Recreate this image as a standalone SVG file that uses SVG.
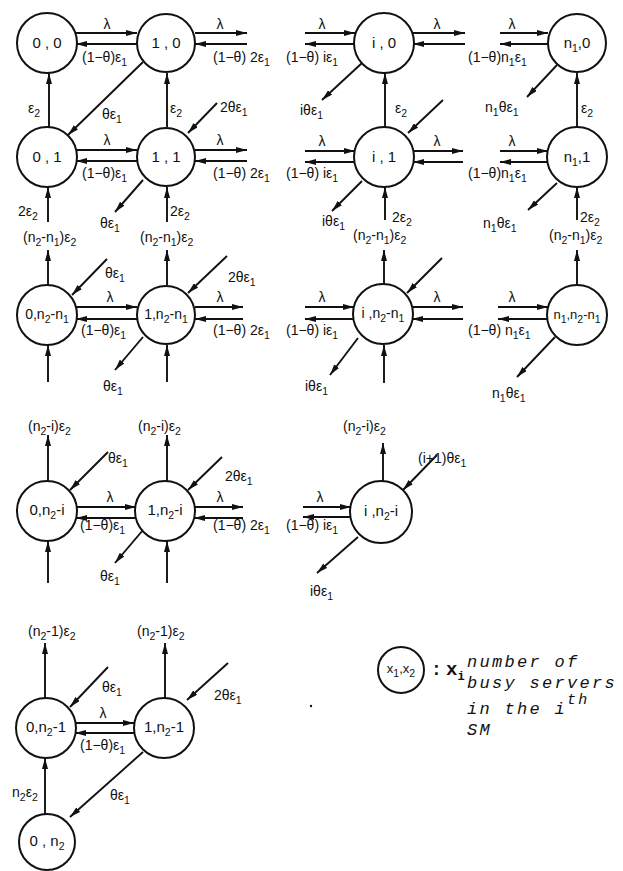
<svg xmlns="http://www.w3.org/2000/svg" width="623" height="871" viewBox="0 0 623 871">
  <style>
    .bg { fill: #ffffff; }
    .node circle { fill: #ffffff; stroke: #111; stroke-width: 2; }
    .node text { font-family: "Liberation Sans", Arial, sans-serif; font-size: 15px; fill: #111; text-anchor: middle; }
    #edges line { stroke: #111; stroke-width: 1.9; marker-end: url(#ah); }
    .lb { font-family: "Liberation Sans", Arial, sans-serif; font-size: 14px; fill: #111; }
    .mid { text-anchor: middle; }
    .s { font-size: 10.5px; }
    .legend { font-family: "Liberation Mono", "Courier New", monospace; font-style: italic; font-size: 17px; letter-spacing: 2.3px; fill: #111; }
  </style>
  <defs>
    <marker id="ah" viewBox="0 0 11 6" refX="11" refY="3" markerWidth="11" markerHeight="6" markerUnits="userSpaceOnUse" orient="auto">
      <path d="M0,0 L11,3 L0,6 z" fill="#111"/>
    </marker>
  </defs>
  <rect class="bg" x="0" y="0" width="623" height="871"/>

  <!-- transitions -->
  <g id="edges">
    <!-- row x2 = 0 -->
    <line x1="76" y1="33" x2="137" y2="33"/>
    <line x1="137" y1="44" x2="76" y2="44"/>
    <line x1="195" y1="33" x2="247" y2="33"/>
    <line x1="247" y1="44" x2="195" y2="44"/>
    <line x1="305" y1="33" x2="355" y2="33"/>
    <line x1="355" y1="44" x2="305" y2="44"/>
    <line x1="413" y1="33" x2="465" y2="33"/>
    <line x1="465" y1="44" x2="413" y2="44"/>
    <line x1="500" y1="33" x2="548" y2="33"/>
    <line x1="548" y1="44" x2="500" y2="44"/>
    <line x1="49" y1="127" x2="49" y2="73"/>
    <line x1="167" y1="127" x2="167" y2="73"/>
    <line x1="143" y1="62" x2="68" y2="135"/>
    <line x1="217" y1="103" x2="188" y2="133"/>
    <line x1="362" y1="63" x2="322" y2="100"/>
    <line x1="385" y1="127" x2="385" y2="73"/>
    <line x1="443" y1="100" x2="408" y2="133"/>
    <line x1="557" y1="65" x2="527" y2="97"/>
    <line x1="577" y1="127" x2="577" y2="73"/>
    <!-- row x2 = 1 -->
    <line x1="76" y1="150" x2="137" y2="150"/>
    <line x1="137" y1="161" x2="76" y2="161"/>
    <line x1="195" y1="150" x2="247" y2="150"/>
    <line x1="247" y1="161" x2="195" y2="161"/>
    <line x1="305" y1="151" x2="355" y2="151"/>
    <line x1="355" y1="162" x2="305" y2="162"/>
    <line x1="413" y1="151" x2="463" y2="151"/>
    <line x1="463" y1="162" x2="413" y2="162"/>
    <line x1="500" y1="151" x2="548" y2="151"/>
    <line x1="548" y1="162" x2="500" y2="162"/>
    <line x1="48" y1="222" x2="48" y2="187"/>
    <line x1="167" y1="222" x2="167" y2="187"/>
    <line x1="143" y1="180" x2="115" y2="212"/>
    <line x1="385" y1="220" x2="385" y2="187"/>
    <line x1="362" y1="181" x2="332" y2="211"/>
    <line x1="577" y1="220" x2="577" y2="187"/>
    <line x1="557" y1="183" x2="528" y2="210"/>
    <!-- row x2 = n2-n1 -->
    <line x1="48" y1="285" x2="48" y2="250"/>
    <line x1="167" y1="285" x2="167" y2="250"/>
    <line x1="107" y1="259" x2="72" y2="295"/>
    <line x1="227" y1="256" x2="188" y2="293"/>
    <line x1="76" y1="307" x2="137" y2="307"/>
    <line x1="137" y1="319" x2="76" y2="319"/>
    <line x1="195" y1="307" x2="243" y2="307"/>
    <line x1="243" y1="319" x2="195" y2="319"/>
    <line x1="48" y1="382" x2="48" y2="345"/>
    <line x1="167" y1="382" x2="167" y2="345"/>
    <line x1="143" y1="337" x2="115" y2="370"/>
    <line x1="384" y1="285" x2="384" y2="250"/>
    <line x1="442" y1="258" x2="407" y2="293"/>
    <line x1="305" y1="307" x2="354" y2="307"/>
    <line x1="354" y1="319" x2="305" y2="319"/>
    <line x1="412" y1="307" x2="463" y2="307"/>
    <line x1="463" y1="319" x2="412" y2="319"/>
    <line x1="358" y1="338" x2="330" y2="375"/>
    <line x1="384" y1="383" x2="384" y2="345"/>
    <line x1="577" y1="285" x2="577" y2="250"/>
    <line x1="498" y1="307" x2="548" y2="307"/>
    <line x1="548" y1="319" x2="498" y2="319"/>
    <line x1="555" y1="337" x2="517" y2="377"/>
    <!-- row x2 = n2-i -->
    <line x1="48" y1="481" x2="48" y2="435"/>
    <line x1="167" y1="481" x2="167" y2="435"/>
    <line x1="108" y1="452" x2="70" y2="490"/>
    <line x1="222" y1="457" x2="188" y2="490"/>
    <line x1="76" y1="507" x2="136" y2="507"/>
    <line x1="136" y1="518" x2="76" y2="518"/>
    <line x1="194" y1="507" x2="243" y2="507"/>
    <line x1="243" y1="518" x2="194" y2="518"/>
    <line x1="48" y1="583" x2="48" y2="541"/>
    <line x1="167" y1="583" x2="167" y2="541"/>
    <line x1="143" y1="530" x2="115" y2="563"/>
    <line x1="383" y1="482" x2="383" y2="443"/>
    <line x1="437" y1="455" x2="403" y2="490"/>
    <line x1="303" y1="507" x2="351" y2="507"/>
    <line x1="351" y1="517" x2="303" y2="517"/>
    <line x1="358" y1="537" x2="317" y2="573"/>
    <!-- rows x2 = n2-1, n2 -->
    <line x1="45" y1="698" x2="45" y2="643"/>
    <line x1="165" y1="698" x2="165" y2="643"/>
    <line x1="108" y1="667" x2="70" y2="707"/>
    <line x1="228" y1="663" x2="187" y2="700"/>
    <line x1="75" y1="723" x2="134" y2="723"/>
    <line x1="134" y1="733" x2="75" y2="733"/>
    <line x1="143" y1="752" x2="70" y2="817"/>
    <line x1="45" y1="814" x2="45" y2="758"/>
  </g>

  <!-- rate labels -->
  <g id="labels" class="lb">
    <!-- row x2 = 0 -->
    <text class="mid" x="107" y="29">λ</text>
    <text x="82" y="62">(1−θ)ε<tspan class="s" dy="4">1</tspan></text>
    <text class="mid" x="220" y="29">λ</text>
    <text x="213" y="62">(1−θ) 2ε<tspan class="s" dy="4">1</tspan></text>
    <text class="mid" x="322" y="29">λ</text>
    <text x="286" y="62">(1−θ) iε<tspan class="s" dy="4">1</tspan></text>
    <text class="mid" x="437" y="29">λ</text>
    <text class="mid" x="512" y="29">λ</text>
    <text x="468" y="62">(1−θ)n<tspan class="s" dy="4">1</tspan><tspan dy="-4">ε</tspan><tspan class="s" dy="4">1</tspan></text>
    <text x="28" y="113">ε<tspan class="s" dy="4">2</tspan></text>
    <text x="170" y="113">ε<tspan class="s" dy="4">2</tspan></text>
    <text x="102" y="119">θε<tspan class="s" dy="4">1</tspan></text>
    <text x="220" y="112">2θε<tspan class="s" dy="4">1</tspan></text>
    <text x="300" y="115">iθε<tspan class="s" dy="4">1</tspan></text>
    <text x="395" y="113">ε<tspan class="s" dy="4">2</tspan></text>
    <text x="485" y="112">n<tspan class="s" dy="4">1</tspan><tspan dy="-4">θε</tspan><tspan class="s" dy="4">1</tspan></text>
    <text x="581" y="113">ε<tspan class="s" dy="4">2</tspan></text>
    <!-- row x2 = 1 -->
    <text class="mid" x="107" y="145">λ</text>
    <text x="82" y="178">(1−θ)ε<tspan class="s" dy="4">1</tspan></text>
    <text class="mid" x="220" y="145">λ</text>
    <text x="213" y="178">(1−θ) 2ε<tspan class="s" dy="4">1</tspan></text>
    <text class="mid" x="322" y="146">λ</text>
    <text x="286" y="178">(1−θ) iε<tspan class="s" dy="4">1</tspan></text>
    <text class="mid" x="437" y="146">λ</text>
    <text class="mid" x="512" y="146">λ</text>
    <text x="468" y="178">(1−θ)n<tspan class="s" dy="4">1</tspan><tspan dy="-4">ε</tspan><tspan class="s" dy="4">1</tspan></text>
    <text x="18" y="216">2ε<tspan class="s" dy="4">2</tspan></text>
    <text x="170" y="216">2ε<tspan class="s" dy="4">2</tspan></text>
    <text x="100" y="228">θε<tspan class="s" dy="4">1</tspan></text>
    <text x="322" y="226">iθε<tspan class="s" dy="4">1</tspan></text>
    <text x="392" y="222">2ε<tspan class="s" dy="4">2</tspan></text>
    <text x="483" y="228">n<tspan class="s" dy="4">1</tspan><tspan dy="-4">θε</tspan><tspan class="s" dy="4">1</tspan></text>
    <text x="580" y="222">2ε<tspan class="s" dy="4">2</tspan></text>
    <!-- row x2 = n2-n1 -->
    <text x="23" y="242">(n<tspan class="s" dy="4">2</tspan><tspan dy="-4">-n</tspan><tspan class="s" dy="4">1</tspan><tspan dy="-4">)ε</tspan><tspan class="s" dy="4">2</tspan></text>
    <text x="140" y="242">(n<tspan class="s" dy="4">2</tspan><tspan dy="-4">-n</tspan><tspan class="s" dy="4">1</tspan><tspan dy="-4">)ε</tspan><tspan class="s" dy="4">2</tspan></text>
    <text x="105" y="278">θε<tspan class="s" dy="4">1</tspan></text>
    <text x="228" y="282">2θε<tspan class="s" dy="4">1</tspan></text>
    <text class="mid" x="110" y="302">λ</text>
    <text x="81" y="335">(1−θ)ε<tspan class="s" dy="4">1</tspan></text>
    <text class="mid" x="220" y="302">λ</text>
    <text x="213" y="335">(1−θ) 2ε<tspan class="s" dy="4">1</tspan></text>
    <text x="103" y="391">θε<tspan class="s" dy="4">1</tspan></text>
    <text x="353" y="240">(n<tspan class="s" dy="4">2</tspan><tspan dy="-4">-n</tspan><tspan class="s" dy="4">1</tspan><tspan dy="-4">)ε</tspan><tspan class="s" dy="4">2</tspan></text>
    <text class="mid" x="322" y="302">λ</text>
    <text x="286" y="335">(1−θ) iε<tspan class="s" dy="4">1</tspan></text>
    <text class="mid" x="437" y="302">λ</text>
    <text x="305" y="391">iθε<tspan class="s" dy="4">1</tspan></text>
    <text x="549" y="240">(n<tspan class="s" dy="4">2</tspan><tspan dy="-4">-n</tspan><tspan class="s" dy="4">1</tspan><tspan dy="-4">)ε</tspan><tspan class="s" dy="4">2</tspan></text>
    <text class="mid" x="512" y="302">λ</text>
    <text x="468" y="335">(1−θ) n<tspan class="s" dy="4">1</tspan><tspan dy="-4">ε</tspan><tspan class="s" dy="4">1</tspan></text>
    <text x="492" y="398">n<tspan class="s" dy="4">1</tspan><tspan dy="-4">θε</tspan><tspan class="s" dy="4">1</tspan></text>
    <!-- row x2 = n2-i -->
    <text x="28" y="431">(n<tspan class="s" dy="4">2</tspan><tspan dy="-4">-i)ε</tspan><tspan class="s" dy="4">2</tspan></text>
    <text x="138" y="431">(n<tspan class="s" dy="4">2</tspan><tspan dy="-4">-i)ε</tspan><tspan class="s" dy="4">2</tspan></text>
    <text x="108" y="463">θε<tspan class="s" dy="4">1</tspan></text>
    <text x="225" y="481">2θε<tspan class="s" dy="4">1</tspan></text>
    <text class="mid" x="110" y="502">λ</text>
    <text x="80" y="530">(1−θ)ε<tspan class="s" dy="4">1</tspan></text>
    <text class="mid" x="220" y="502">λ</text>
    <text x="213" y="530">(1−θ) 2ε<tspan class="s" dy="4">1</tspan></text>
    <text x="100" y="581">θε<tspan class="s" dy="4">1</tspan></text>
    <text x="343" y="431">(n<tspan class="s" dy="4">2</tspan><tspan dy="-4">-i)ε</tspan><tspan class="s" dy="4">2</tspan></text>
    <text x="418" y="463">(i+1)θε<tspan class="s" dy="4">1</tspan></text>
    <text class="mid" x="320" y="502">λ</text>
    <text x="286" y="530">(1−θ) iε<tspan class="s" dy="4">1</tspan></text>
    <text x="310" y="596">iθε<tspan class="s" dy="4">1</tspan></text>
    <!-- rows x2 = n2-1, n2 -->
    <text x="28" y="636">(n<tspan class="s" dy="4">2</tspan><tspan dy="-4">-1)ε</tspan><tspan class="s" dy="4">2</tspan></text>
    <text x="137" y="636">(n<tspan class="s" dy="4">2</tspan><tspan dy="-4">-1)ε</tspan><tspan class="s" dy="4">2</tspan></text>
    <text x="102" y="692">θε<tspan class="s" dy="4">1</tspan></text>
    <text x="214" y="700">2θε<tspan class="s" dy="4">1</tspan></text>
    <text class="mid" x="103" y="718">λ</text>
    <text x="80" y="750">(1−θ)ε<tspan class="s" dy="4">1</tspan></text>
    <text x="110" y="800">θε<tspan class="s" dy="4">1</tspan></text>
    <text x="12" y="797">n<tspan class="s" dy="4">2</tspan><tspan dy="-4">ε</tspan><tspan class="s" dy="4">2</tspan></text>
  </g>

  <!-- states (x1, x2) -->
  <g id="s-0-0" class="node"><circle cx="47" cy="43" r="30"/><text x="47" y="48">0 , 0</text></g>
  <g id="s-1-0" class="node"><circle cx="166" cy="43" r="29"/><text x="166" y="48">1 , 0</text></g>
  <g id="s-i-0" class="node"><circle cx="384" cy="43" r="30"/><text x="384" y="48">i , 0</text></g>
  <g id="s-n1-0" class="node"><circle cx="577" cy="43" r="29"/><text x="577" y="48">n<tspan class="s" dy="4">1</tspan><tspan dy="-4">,0</tspan></text></g>

  <g id="s-0-1" class="node"><circle cx="47" cy="157" r="30"/><text x="47" y="162">0 , 1</text></g>
  <g id="s-1-1" class="node"><circle cx="166" cy="157" r="29"/><text x="166" y="162">1 , 1</text></g>
  <g id="s-i-1" class="node"><circle cx="384" cy="157" r="30"/><text x="384" y="162">i , 1</text></g>
  <g id="s-n1-1" class="node"><circle cx="577" cy="157" r="30"/><text x="577" y="162">n<tspan class="s" dy="4">1</tspan><tspan dy="-4">,1</tspan></text></g>

  <g id="s-0-n2mn1" class="node"><circle cx="47" cy="315" r="30"/><text x="47" y="319" style="font-size:14px">0,n<tspan class="s" dy="4">2</tspan><tspan dy="-4">-n</tspan><tspan class="s" dy="4">1</tspan></text></g>
  <g id="s-1-n2mn1" class="node"><circle cx="166" cy="315" r="29"/><text x="166" y="319" style="font-size:14px">1,n<tspan class="s" dy="4">2</tspan><tspan dy="-4">-n</tspan><tspan class="s" dy="4">1</tspan></text></g>
  <g id="s-i-n2mn1" class="node"><circle cx="383" cy="314" r="30"/><text x="383" y="318" style="font-size:14px">i ,n<tspan class="s" dy="4">2</tspan><tspan dy="-4">-n</tspan><tspan class="s" dy="4">1</tspan></text></g>
  <g id="s-n1-n2mn1" class="node"><circle cx="577" cy="315" r="30"/><text x="577" y="319" style="font-size:13px">n<tspan class="s" dy="4">1</tspan><tspan dy="-4">,n</tspan><tspan class="s" dy="4">2</tspan><tspan dy="-4">-n</tspan><tspan class="s" dy="4">1</tspan></text></g>

  <g id="s-0-n2mi" class="node"><circle cx="47" cy="511" r="30"/><text x="47" y="515">0,n<tspan class="s" dy="4">2</tspan><tspan dy="-4">-i</tspan></text></g>
  <g id="s-1-n2mi" class="node"><circle cx="165" cy="511" r="30"/><text x="165" y="515">1,n<tspan class="s" dy="4">2</tspan><tspan dy="-4">-i</tspan></text></g>
  <g id="s-i-n2mi" class="node"><circle cx="381" cy="512" r="31"/><text x="381" y="516">i ,n<tspan class="s" dy="4">2</tspan><tspan dy="-4">-i</tspan></text></g>

  <g id="s-0-n2m1" class="node"><circle cx="46" cy="728" r="30"/><text x="46" y="732">0,n<tspan class="s" dy="4">2</tspan><tspan dy="-4">-1</tspan></text></g>
  <g id="s-1-n2m1" class="node"><circle cx="164" cy="728" r="30"/><text x="164" y="732">1,n<tspan class="s" dy="4">2</tspan><tspan dy="-4">-1</tspan></text></g>
  <g id="s-0-n2" class="node"><circle cx="47" cy="842" r="28"/><text x="47" y="846">0 , n<tspan class="s" dy="4">2</tspan></text></g>

  <!-- key -->
  <g id="key">
    <g class="node"><circle cx="401" cy="670" r="23"/><text x="401" y="673" style="font-size:13px">x<tspan class="s" dy="4">1</tspan><tspan dy="-4">,x</tspan><tspan class="s" dy="4">2</tspan></text></g>
    <text x="431" y="675" style="font-family:'Liberation Mono',monospace;font-size:18px;font-weight:bold;fill:#111">:</text>
    <text x="446" y="675" style="font-family:'Liberation Mono',monospace;font-size:19px;font-weight:bold;fill:#111">x<tspan dy="5" style="font-size:12px">i</tspan></text>
    <text class="legend" x="467" y="667">number of</text>
    <text class="legend" x="467" y="688">busy servers</text>
    <text class="legend" x="467" y="714">in the i<tspan dy="-10" style="font-size:15px">th</tspan></text>
    <text class="legend" x="467" y="735">SM</text>
    <circle cx="311" cy="706" r="1.2" fill="#111"/>
  </g>
</svg>
